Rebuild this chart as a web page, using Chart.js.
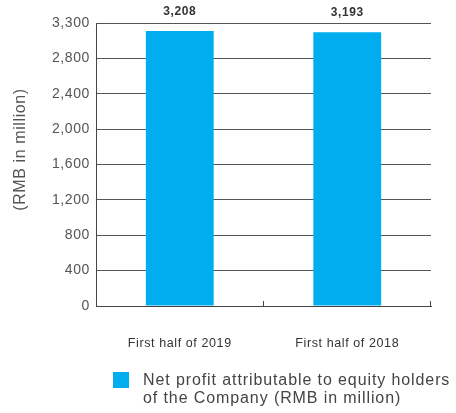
<!DOCTYPE html>
<html>
<head>
<meta charset="utf-8">
<script src="https://cdn.jsdelivr.net/npm/chart.js@4.4.1/dist/chart.umd.min.js"></script>
<style>
  html,body{margin:0;padding:0;background:#fff;}
  #wrap{position:relative;width:456px;height:413px;}
  #legend{position:absolute;left:112px;top:371px;font:16px 'Liberation Sans', Arial, sans-serif;color:#444;line-height:18px;letter-spacing:0.9px;}
  #legend .box{position:absolute;left:1px;top:1px;width:16px;height:16px;}
  #legend .txt{position:absolute;left:31px;top:0;white-space:nowrap;}
</style>
</head>
<body>
<div id="wrap">
  <canvas id="chart" width="456" height="413"></canvas>
  <div id="legend"></div>
</div>
<script>
// --- data ---
const categories = ["First half of 2019", "First half of 2018"];
const netProfit = [3208, 3193];
const seriesLabel = ["Net profit attributable to equity holders", "of the Company (RMB in million)"];
const yTickLabels = ["0", "400", "800", "1,200", "1,600", "2,000", "2,400", "2,800", "3,300"];
const yTitle = "(RMB in million)";
const yMax = 3300;

const FONT = "'Liberation Sans', Arial, sans-serif";
const BAR = "#00adef";

// the original type is wider than Liberation Sans, so open the letters up a little
const spacing = {
  id: "spacing",
  beforeLayout(chart){ chart.ctx.letterSpacing = "0.6px"; },
  beforeDraw(chart){ chart.ctx.letterSpacing = "0.6px"; }
};

// value labels above the bars
const valueLabels = {
  id: "valueLabels",
  afterDatasetsDraw(chart){
    const ctx = chart.ctx;
    const meta = chart.getDatasetMeta(0);
    ctx.save();
    ctx.font = "bold 12px " + FONT;
    ctx.fillStyle = "#333";
    ctx.textAlign = "center";
    ctx.textBaseline = "middle";
    meta.data.forEach((bar, i)=>{
      ctx.fillText(netProfit[i].toLocaleString("en-US"), bar.x, bar.y - 19);
    });
    ctx.restore();
  }
};

// y title sits a bit above the middle of the axis in the original
const yTitleDraw = {
  id: "yTitleDraw",
  afterDraw(chart){
    const a = chart.chartArea, ctx = chart.ctx;
    ctx.save();
    ctx.font = "16px " + FONT;
    ctx.fillStyle = "#555";
    ctx.textAlign = "center";
    ctx.textBaseline = "middle";
    ctx.translate(21, (a.top + a.bottom) / 2 - 15);
    ctx.rotate(-Math.PI / 2);
    ctx.fillText(yTitle, 0, 0);
    ctx.restore();
  }
};

// small inward ticks on the x axis at category boundaries
const xInnerTicks = {
  id: "xInnerTicks",
  afterDraw(chart){
    const a = chart.chartArea, ctx = chart.ctx;
    ctx.save();
    ctx.strokeStyle = "#444"; ctx.lineWidth = 1;
    for(let i=1;i<=categories.length;i++){
      const px = Math.round(a.left + (a.right - a.left) * i / categories.length) - 0.5;
      ctx.beginPath(); ctx.moveTo(px, a.bottom); ctx.lineTo(px, a.bottom - 5); ctx.stroke();
    }
    ctx.restore();
  }
};

// html legend (two-line label)
const legend = document.getElementById("legend");
legend.innerHTML = `<div class="box" style="background:${BAR}"></div><div class="txt">${seriesLabel.join("<br>")}</div>`;

new Chart(document.getElementById("chart"), {
  type: "bar",
  data: {
    labels: categories,
    datasets: [{ label: seriesLabel.join(" "), data: netProfit, backgroundColor: BAR, barPercentage: 0.81, categoryPercentage: 0.5 }]
  },
  options: {
    responsive: false,
    animation: false,
    layout: { padding: { top: 23, right: 25, left: 0, bottom: 55 } },
    plugins: {
      tooltip: { enabled: false },
      legend: { display: false }
    },
    scales: {
      x: {
        grid: { display: false, drawTicks: false },
        border: { color: "#444", width: 1 },
        ticks: { font: { size: 12.5, family: FONT }, color: "#333", padding: 30 },
        afterFit(s){ s.height = 52; }
      },
      y: {
        min: 0, max: yMax,
        afterBuildTicks(s){
          s.ticks = yTickLabels.map((_, i)=>({ value: yMax * i / (yTickLabels.length - 1) }));
        },
        grid: { color: "#555", drawTicks: false },
        border: { color: "#444", width: 1 },
        ticks: {
          font: { size: 14, family: FONT }, color: "#555", padding: 6,
          callback: (v, i)=>yTickLabels[i]
        },
        title: { display: false },
        afterFit(s){ s.width = 96; }
      }
    }
  },
  plugins: [spacing, valueLabels, yTitleDraw, xInnerTicks]
});
</script>
</body>
</html>
